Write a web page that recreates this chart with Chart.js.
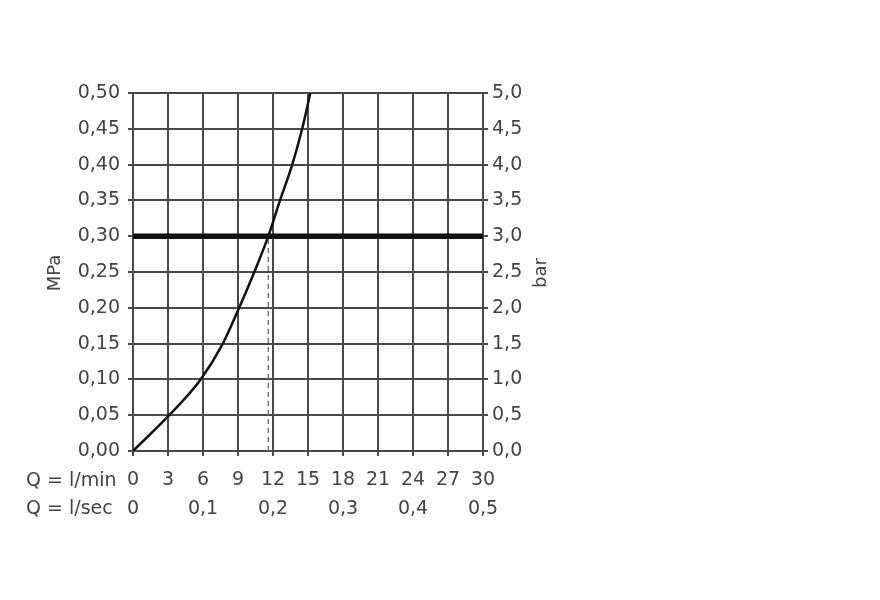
<!DOCTYPE html>
<html>
<head>
<meta charset="utf-8">
<script src="https://cdn.jsdelivr.net/npm/chart.js@4/dist/chart.umd.min.js"></script>
<style>
  html, body { margin: 0; padding: 0; background: #ffffff; }
  #wrap { width: 880px; height: 600px; position: relative; }
</style>
</head>
<body>
<div id="wrap"><canvas id="c" width="880" height="600"></canvas></div>
<script>
// Flow (l/min) vs pressure (MPa) curve
const flowLpm     = [0, 3.1, 5.8, 7.7, 9.1, 10.4, 11.6, 12.6, 13.65, 14.5, 15.2];
const pressureMPa = [0, 0.05, 0.10, 0.15, 0.20, 0.25, 0.30, 0.35, 0.40, 0.45, 0.50];
// Reference pressure line and operating point
const refPressureMPa = [0.30];
const refFlowLpm = [11.6];
// Axis ranges / tick labels
const xTicksLpm = [0, 3, 6, 9, 12, 15, 18, 21, 24, 27, 30];
const xRowLabels = ['Q = l/min', 'Q = l/sec'];
const leftTitle = 'MPa';
const rightTitle = 'bar';

const FONT = "'DejaVu Sans', sans-serif";
const TXT = '#444';
const GRID = '#4a4a4a';

const fmt = (v, d) => v.toFixed(d).replace('.', ',');

const curve = flowLpm.map((x, i) => ({ x, y: pressureMPa[i] }));
const refLine = [{ x: xTicksLpm[0], y: refPressureMPa[0] }, { x: xTicksLpm[xTicksLpm.length - 1], y: refPressureMPa[0] }];
const dropLine = [{ x: refFlowLpm[0], y: 0 }, { x: refFlowLpm[0], y: refPressureMPa[0] }];

const textPlugin = {
  id: 'extraText',
  afterDraw(chart) {
    const ctx = chart.ctx;
    const area = chart.chartArea;
    ctx.save();
    ctx.fillStyle = TXT;
    ctx.font = '19px ' + FONT;
    ctx.textAlign = 'left';
    ctx.textBaseline = 'middle';
    ctx.fillText(xRowLabels[0], 26, 481);
    ctx.fillText(xRowLabels[1], 26, 509.5);
    ctx.font = '18px ' + FONT;
    ctx.textAlign = 'center';
    const cy = (area.top + area.bottom) / 2 + 1;
    ctx.save();
    ctx.translate(55, cy);
    ctx.rotate(-Math.PI / 2);
    ctx.fillText(leftTitle, 0, 0);
    ctx.restore();
    ctx.save();
    ctx.translate(541, cy);
    ctx.rotate(-Math.PI / 2);
    ctx.fillText(rightTitle, 0, 0);
    ctx.restore();
    ctx.restore();
  }
};

new Chart(document.getElementById('c'), {
  type: 'line',
  data: {
    datasets: [
      { data: refLine, borderColor: '#111', borderWidth: 5.5, pointRadius: 0, yAxisID: 'y', order: 3 },
      { data: dropLine, borderColor: '#777', borderWidth: 1.5, borderDash: [5, 4], pointRadius: 0, yAxisID: 'y', order: 2 },
      { data: curve, borderColor: '#111', borderWidth: 2.5, pointRadius: 0, cubicInterpolationMode: 'monotone', yAxisID: 'y', order: 1 }
    ]
  },
  options: {
    responsive: false,
    animation: false,
    events: [],
    layout: { padding: { left: 0, right: 317, top: 93, bottom: 60 } },
    plugins: { legend: { display: false }, tooltip: { enabled: false } },
    scales: {
      x: {
        type: 'linear', position: 'bottom', min: 0, max: 30,
        afterFit(s) { s.height = 89; },
        afterBuildTicks(s) { s.ticks = xTicksLpm.map(v => ({ value: v })); },
        grid: { color: GRID, lineWidth: 2, tickLength: 5, drawTicks: true },
        border: { display: true, color: GRID, width: 2 },
        ticks: {
          autoSkip: false, maxRotation: 0, padding: 10, color: TXT,
          font: { family: FONT, size: 19, lineHeight: 1.5 },
          callback(v) {
            const sec = v === 0 ? '0' : (v % 6 === 0 ? fmt(v / 60, 1) : '');
            return [String(v), sec];
          }
        }
      },
      y: {
        type: 'linear', position: 'left', min: 0, max: 0.5,
        afterFit(s) { s.width = 133; },
        grid: { color: GRID, lineWidth: 2, tickLength: 5 },
        border: { display: true, color: GRID, width: 2 },
        ticks: { stepSize: 0.05, padding: 8, color: TXT, font: { family: FONT, size: 19 }, callback: v => fmt(v, 2) }
      },
      y2: {
        type: 'linear', position: 'right', min: 0, max: 5,
        afterFit(s) { s.width = 80; },
        grid: { drawOnChartArea: false, color: GRID, lineWidth: 2, tickLength: 5 },
        border: { display: true, color: GRID, width: 2 },
        ticks: { stepSize: 0.5, padding: 4, color: TXT, font: { family: FONT, size: 19 }, callback: v => fmt(v, 1) }
      }
    }
  },
  plugins: [textPlugin]
});
</script>
</body>
</html>
